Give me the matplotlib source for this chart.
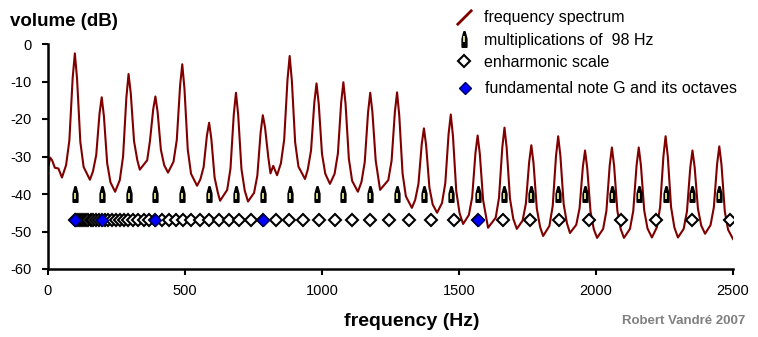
import matplotlib
matplotlib.use("Agg")
import matplotlib.pyplot as plt
from matplotlib.path import Path
from matplotlib.lines import Line2D

plt.rcParams['font.family'] = ['Liberation Sans', 'DejaVu Sans']
plt.rcParams['axes.unicode_minus'] = False

# spectrum (Hz, dB), one line per harmonic
spec_hz = [0, 8, 15, 25, 38, 51,
           66, 78, 90, 98, 106, 118, 130, 153,
           164, 176, 188, 196, 204, 216, 228, 245,
           262, 274, 286, 294, 302, 314, 326, 335, 362,
           372, 384, 392, 400, 412, 424, 438,
           458, 470, 482, 490, 498, 510, 522, 544,
           556, 568, 580, 588, 596, 608, 620, 628,
           654, 666, 678, 686, 694, 706, 718, 730,
           752, 764, 776, 784, 792, 804, 812, 822, 836,
           850, 862, 874, 882, 890, 902, 914, 938,
           948, 960, 972, 980, 988, 1000, 1012, 1029,
           1046, 1058, 1070, 1078, 1086, 1098, 1110, 1131,
           1144, 1156, 1168, 1176, 1184, 1196, 1212,
           1242, 1254, 1266, 1274, 1282, 1294, 1306, 1328,
           1340, 1352, 1364, 1372, 1380, 1392, 1404, 1420,
           1438, 1450, 1462, 1470, 1478, 1490, 1502, 1515,
           1536, 1548, 1560, 1568, 1576, 1588, 1606,
           1634, 1646, 1658, 1666, 1674, 1686, 1698, 1711,
           1732, 1744, 1756, 1764, 1772, 1784, 1796, 1807,
           1830, 1842, 1854, 1862, 1870, 1882, 1894, 1905,
           1928, 1940, 1952, 1960, 1968, 1980, 1992, 2004,
           2026, 2038, 2050, 2058, 2066, 2078, 2090, 2102,
           2124, 2136, 2148, 2156, 2164, 2176, 2188, 2204,
           2222, 2234, 2246, 2254, 2262, 2274, 2286, 2299,
           2320, 2332, 2344, 2352, 2360, 2372, 2384, 2398,
           2418, 2430, 2442, 2450, 2458, 2470, 2482, 2500]
spec_db = [-33, -30.3, -31, -33, -33.2, -35.6,
           -32.3, -25.7, -9.1, -2.5, -9.2, -26.1, -32.8, -36.2,
           -34.0, -29.6, -18.6, -14.2, -19.2, -31.8, -36.9, -39.4,
           -36.3, -30.0, -14.3, -8, -13.1, -25.9, -31.0, -33.5, -31,
           -25.9, -17.4, -14, -18.1, -28.2, -32.3, -34.3,
           -31.4, -25.6, -11.2, -5.4, -11.9, -28.1, -34.6, -37.8,
           -36.1, -32.8, -24.4, -21, -25.2, -35.6, -39.7, -41.8,
           -38.9, -33.2, -18.8, -13, -18.8, -33.3, -39.1, -42,
           -39.7, -35.1, -23.6, -19, -22.2, -30.2, -34.5, -32.5, -35,
           -31.8, -25.5, -9.6, -3.2, -9.8, -26.2, -32.7, -36,
           -33.5, -28.4, -15.6, -10.5, -15.9, -29.3, -34.6, -37.3,
           -34.6, -29.2, -15.6, -10.2, -16.0, -30.6, -36.5, -39.4,
           -36.8, -31.5, -18.3, -13, -18.2, -31.1, -38.9,
           -36.3, -31.1, -18.1, -12.9, -19.1, -34.5, -40.6, -43.7,
           -41.6, -37.3, -26.7, -22.5, -27.0, -38.3, -42.8, -45,
           -42.4, -37.1, -24.0, -18.8, -24.6, -39.2, -45.1, -48,
           -45.6, -40.9, -29.1, -24.4, -29.3, -41.6, -49,
           -46.3, -41.0, -27.6, -22.3, -27.7, -41.2, -46.6, -49.3,
           -47.1, -42.6, -31.5, -27, -31.8, -43.9, -48.8, -51.2,
           -48.5, -43.2, -29.9, -24.6, -29.8, -42.7, -47.8, -50.4,
           -48.2, -43.8, -32.8, -28.4, -33.1, -44.7, -49.4, -51.7,
           -49.3, -44.5, -32.4, -27.6, -32.4, -44.5, -49.3, -51.7,
           -49.3, -44.5, -32.4, -27.6, -32.4, -44.4, -49.2, -51.6,
           -48.9, -43.5, -30.0, -24.6, -30.0, -43.5, -48.9, -51.6,
           -49.3, -44.6, -33.0, -28.4, -32.8, -43.9, -48.4, -50.6,
           -48.3, -43.6, -32.0, -27.3, -32.2, -44.6, -49.5, -52]

# multiples of 98 Hz
harm_hz = [98, 196, 294, 392, 490, 588, 686, 784, 882, 980, 1078, 1176, 1274,
           1372, 1470, 1568, 1666, 1764, 1862, 1960, 2058, 2156, 2254, 2352, 2450]
harm_db = -40

# enharmonic (chromatic) scale from G2
scale_hz = [98.0, 103.8, 110.0, 116.5, 123.5, 130.8, 138.6, 146.8, 155.6, 164.8, 174.6, 185.0,
            196.0, 207.7, 220.0, 233.1, 246.9, 261.6, 277.2, 293.7, 311.1, 329.6, 349.2, 370.0,
            392.0, 415.3, 440.0, 466.2, 493.9, 523.3, 554.4, 587.3, 622.3, 659.3, 698.5, 740.0,
            784.0, 830.6, 880.0, 932.3, 987.8, 1046.5, 1108.7, 1174.7, 1244.5, 1318.5, 1396.9, 1480.0,
            1568.0, 1661.2, 1760.0, 1864.7, 1975.5, 2093.0, 2217.5, 2349.3, 2489.0]
scale_db = -47

# G and its octaves
g_hz = [98, 196, 392, 784, 1568]

# spire shaped marker like the old excel one
spire = Path([(-0.3, -1), (0.3, -1), (0.3, 0.1), (0.06, 1), (-0.06, 1), (-0.3, 0.1), (-0.3, -1)],
             [Path.MOVETO] + [Path.LINETO] * 5 + [Path.CLOSEPOLY])
slash = Path([(-1, -1), (1, 1)], [Path.MOVETO, Path.LINETO])

spire_kw = dict(ls='none', marker=spire, ms=11, mfc='black', mec='black', mew=1.2)
spot_kw = dict(ls='none', marker='|', ms=4, mec='#ffffa0', mew=1.2)
white_kw = dict(ls='none', marker='D', ms=6, mfc='white', mec='black', mew=1.5)
blue_kw = dict(ls='none', marker='D', ms=6, mfc='#0000ff', mec='#000060', mew=1.0)

fig = plt.figure(figsize=(7.58, 3.37), dpi=100)
ax = fig.add_axes([48 / 758, 1 - 269 / 337, 685 / 758, 225 / 337])

ax.plot(spec_hz, spec_db, color='#800000', lw=1.5, zorder=2)
ax.plot(harm_hz, [harm_db] * len(harm_hz), zorder=3, **spire_kw)
ax.plot(harm_hz, [harm_db - 0.6] * len(harm_hz), zorder=3, **spot_kw)
ax.plot(scale_hz, [scale_db] * len(scale_hz), zorder=3, **white_kw)
ax.plot(g_hz, [scale_db] * len(g_hz), zorder=4, **blue_kw)

ax.set_xlim(0, 2500)
ax.set_ylim(-60, 0)
ax.set_xticks([0, 500, 1000, 1500, 2000, 2500])
ax.set_yticks([0, -10, -20, -30, -40, -50, -60])
for s in ['top', 'right']:
    ax.spines[s].set_visible(False)
for s in ['left', 'bottom']:
    ax.spines[s].set_linewidth(1.8)
ax.tick_params(axis='both', direction='out', length=4, width=1.5, labelsize=10.5)
ax.tick_params(axis='x', pad=7)
ax.tick_params(axis='y', pad=8)
ax.set_facecolor('white')

fig.text(10 / 758, 1 - 22 / 337, 'volume (dB)', fontsize=13.5, fontweight='bold', va='center')
fig.text(412 / 758, 1 - 321 / 337, 'frequency (Hz)', fontsize=14, fontweight='bold',
         ha='center', va='center')
fig.text(745 / 758, 1 - 321 / 337, 'Robert Vandré 2007', fontsize=9.5, fontweight='bold',
         color='#808080', ha='right', va='center')

handles = [
    Line2D([], [], ls='none', marker=slash, ms=11, mec='#800000', mfc='none', mew=2),
    (Line2D([], [], **spire_kw), Line2D([], [], **spot_kw)),
    Line2D([], [], **white_kw),
]
labels = ['frequency spectrum', 'multiplications of  98 Hz', 'enharmonic scale']
leg_kw = dict(loc='upper left', frameon=False, fontsize=11.5, handlelength=1.0,
              handletextpad=0.75, labelspacing=0.45, borderpad=0.15)
fig.legend(handles, labels, bbox_to_anchor=(446 / 758, 1.0), **leg_kw)
# last entry sits a bit lower in the original
fig.legend([Line2D([], [], **blue_kw)], ['fundamental note G and its octaves'],
           bbox_to_anchor=(447 / 758, 1 - 71 / 337), **leg_kw)

fig.savefig('out.png', dpi=100, facecolor='white')
